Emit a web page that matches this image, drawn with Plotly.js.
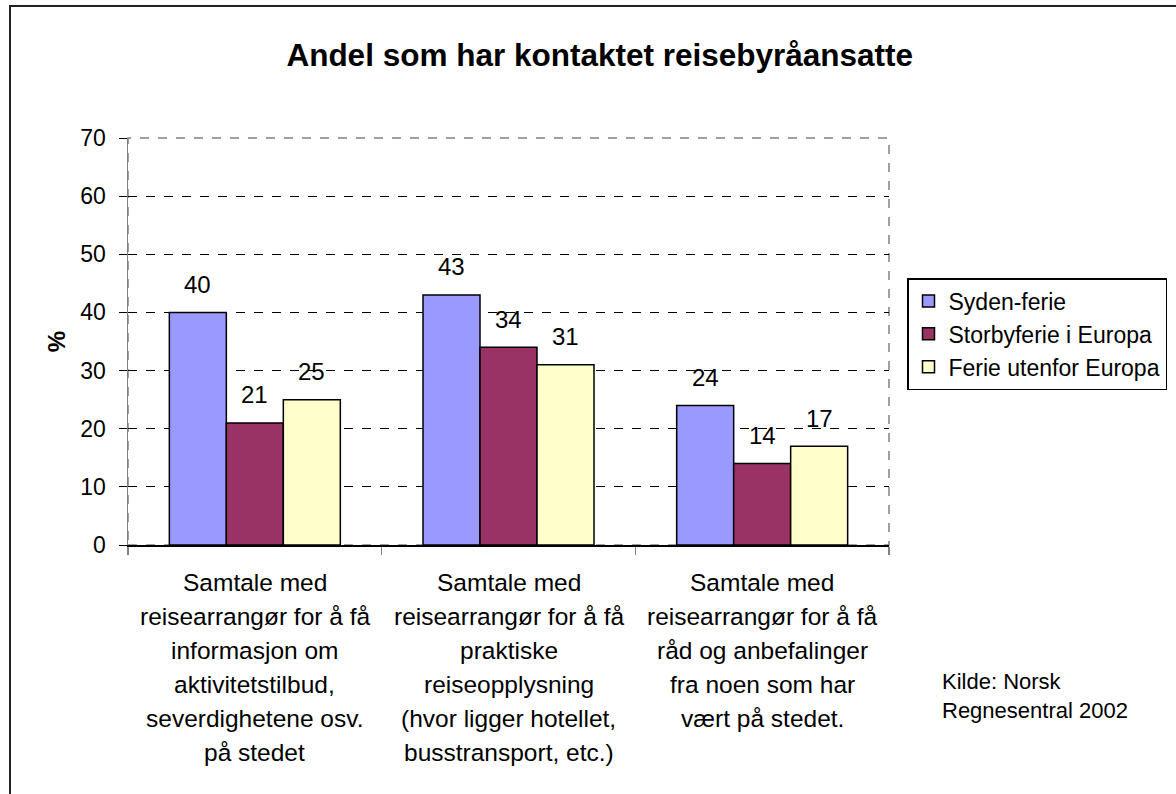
<!DOCTYPE html>
<html>
<head>
<meta charset="utf-8">
<script src="https://cdn.plot.ly/plotly-3.0.1.min.js"></script>
<style>
  html, body { margin: 0; padding: 0; background: #fff; overflow: hidden; }
  #chart { width: 1176px; height: 794px; }
  #frame { position: absolute; left: 9px; top: 5px; width: 1300px; height: 900px;
           border: 2px solid #222; pointer-events: none; }
</style>
</head>
<body>
<div id="chart"></div>
<div id="frame"></div>
<script>
// ---- data ----
const categoryLines = [
  ["Samtale med", "reisearrangør for å få", "informasjon om", "aktivitetstilbud,", "severdighetene osv.", "på stedet"],
  ["Samtale med", "reisearrangør for å få", "praktiske", "reiseopplysning", "(hvor ligger hotellet,", "busstransport, etc.)"],
  ["Samtale med", "reisearrangør for å få", "råd og anbefalinger", "fra noen som har", "vært på stedet."]
];
const seriesNames = ["Syden-ferie", "Storbyferie i Europa", "Ferie utenfor Europa"];
const sydenFerie = [40, 43, 24];
const storbyferieEuropa = [21, 34, 14];
const ferieUtenforEuropa = [25, 31, 17];
const chartTitle = "Andel som har kontaktet reisebyråansatte";
const yAxisTitle = "%";
const sourceText = "Kilde: Norsk<br>Regnesentral 2002";

// ---- styling ----
const colors = ["#9999FF", "#993366", "#FFFFCC"];
const fontFamily = "Liberation Sans, Arial, sans-serif";
const margin = { l: 128, r: 287, t: 138, b: 249, autoexpand: false };
const W = 1176, H = 794;
const bargap = 0.326;

const categories = categoryLines.map(l => l.join(" "));
const seriesValues = [sydenFerie, storbyferieEuropa, ferieUtenforEuropa];

const traces = seriesValues.map((vals, i) => ({
  type: "bar",
  name: seriesNames[i],
  x: categories,
  y: vals,
  marker: { color: colors[i], line: { color: "#000", width: 1.5 } },
  hoverinfo: "x+y+name"
}));

const plotW = W - margin.l - margin.r;
const plotH = H - margin.t - margin.b;
const barW = plotW / categories.length * (1 - bargap) / seriesValues.length;

const annotations = [];
// data labels
seriesValues.forEach((vals, i) => {
  vals.forEach((v, k) => {
    annotations.push({
      x: categories[k], y: v, xref: "x", yref: "y",
      text: String(v), showarrow: false,
      xshift: (i - (seriesValues.length - 1) / 2) * barW,
      yshift: 28, yanchor: "middle",
      font: { family: fontFamily, size: 24, color: "#000" }
    });
  });
});
// multi-line category labels
categoryLines.forEach((lines, k) => {
  lines.forEach((line, j) => {
    annotations.push({
      x: categories[k], y: 0, xref: "x", yref: "paper",
      text: line, showarrow: false,
      yanchor: "middle", yshift: -37 - j * 34,
      font: { family: fontFamily, size: 24.5, color: "#000" }
    });
  });
});
// source
annotations.push({
  x: (940 - margin.l) / plotW, y: (H - margin.b - 667) / plotH,
  xref: "paper", yref: "paper", xanchor: "left", yanchor: "top", align: "left",
  text: sourceText, showarrow: false,
  font: { family: fontFamily, size: 22, color: "#000" }
});

const layout = {
  width: W, height: H,
  margin: margin,
  paper_bgcolor: "#fff",
  plot_bgcolor: "#fff",
  font: { family: fontFamily, size: 24, color: "#000" },
  barmode: "group",
  bargap: bargap,
  bargroupgap: 0,
  showlegend: true,
  title: {
    text: "<b>" + chartTitle + "</b>",
    xref: "container", x: 0.51, xanchor: "center",
    yref: "container", y: 1 - 55 / H, yanchor: "middle",
    font: { family: fontFamily, size: 31.5, color: "#000" }
  },
  xaxis: {
    type: "category",
    showticklabels: false,
    showline: true, linecolor: "#000", linewidth: 1.5,
    ticks: "outside", tickson: "boundaries", ticklen: 8, tickcolor: "#808080", tickwidth: 1.5,
    showgrid: false, zeroline: false, fixedrange: true
  },
  yaxis: {
    range: [0, 70], dtick: 10, tick0: 0,
    showline: true, linecolor: "#808080", linewidth: 1.5,
    ticks: "outside", ticklen: 8, tickcolor: "#000", tickwidth: 1,
    ticklabelstandoff: 8,
    tickfont: { family: fontFamily, size: 23, color: "#000" },
    showgrid: true, gridcolor: "#000", gridwidth: 1, griddash: "dash",
    zeroline: false, fixedrange: true,
    title: { text: "<b>" + yAxisTitle + "</b>", standoff: 8,
             font: { family: fontFamily, size: 24, color: "#000" } }
  },
  legend: {
    x: (907 - margin.l) / plotW, xanchor: "left",
    y: (H - margin.b - 278) / plotH, yanchor: "top",
    bgcolor: "#fff", bordercolor: "#000", borderwidth: 1.5,
    font: { family: fontFamily, size: 23, color: "#000" },
    entrywidth: 280, entrywidthmode: "pixels",
    traceorder: "normal", itemclick: false, itemdoubleclick: false
  },
  shapes: [{
    type: "rect", xref: "paper", yref: "paper", x0: 0, x1: 1, y0: 0, y1: 1,
    line: { color: "#808080", width: 1.5, dash: "dash" }, layer: "below"
  }],
  annotations: annotations
};

Plotly.newPlot("chart", traces, layout, { staticPlot: true, displayModeBar: false });
</script>
</body>
</html>
